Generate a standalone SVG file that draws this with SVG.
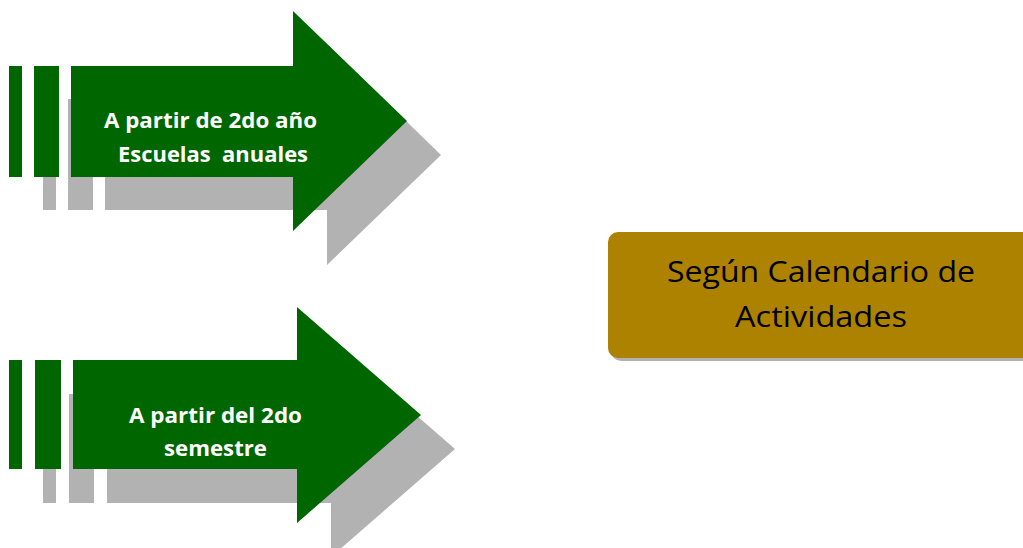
<svg xmlns="http://www.w3.org/2000/svg" width="1023" height="548" viewBox="0 0 1023 548">
<style>
.g{fill:#006600}
.s{fill:#b2b2b2}
.t{font-family:"Open Sans","Liberation Sans",sans-serif;font-weight:bold;font-size:21px;fill:#ffffff;text-anchor:middle;white-space:pre}
.b{font-family:"Open Sans","Liberation Sans",sans-serif;font-size:30px;fill:#000000;text-anchor:middle}
</style>
<rect width="1023" height="548" fill="#ffffff"/>
<g id="arrow1">
<g class="s">
<rect x="43" y="99" width="13" height="111"/>
<rect x="68" y="99" width="25" height="111"/>
<polygon points="105,99 327,99 327,44 441,155 327,265 327,210 105,210"/>
</g>
<g class="g">
<rect x="9" y="66" width="13" height="111"/>
<rect x="34" y="66" width="25" height="111"/>
<polygon points="71,66 293,66 293,11 407,121 293,231 293,177 71,177"/>
</g>
<text class="t" x="210.5" y="128" textLength="213" lengthAdjust="spacingAndGlyphs">A partir de 2do año</text>
<text class="t" x="213" y="162" textLength="190" lengthAdjust="spacingAndGlyphs" xml:space="preserve">Escuelas  anuales</text>
</g>
<g id="arrow2">
<g class="s">
<rect x="43" y="394" width="13" height="109"/>
<rect x="69" y="394" width="25" height="109"/>
<polygon points="107,394 331,394 331,341 455,449 331,557 331,503 107,503"/>
</g>
<g class="g">
<rect x="9" y="360" width="13" height="109"/>
<rect x="35" y="360" width="26" height="109"/>
<polygon points="73,360 297,360 297,307 421,415 297,523 297,469 73,469"/>
</g>
<text class="t" x="215.5" y="423" textLength="173" lengthAdjust="spacingAndGlyphs">A partir del 2do</text>
<text class="t" x="215.5" y="456" textLength="103" lengthAdjust="spacingAndGlyphs">semestre</text>
</g>
<g id="box">
<rect x="611" y="235" width="430" height="126" rx="10" fill="#b2b2b2"/>
<rect x="608" y="232" width="430" height="126" rx="10" fill="#ad8200"/>
<text class="b" x="821" y="282" textLength="308" lengthAdjust="spacingAndGlyphs">Según Calendario de</text>
<text class="b" x="821" y="327" textLength="172" lengthAdjust="spacingAndGlyphs">Actividades</text>
</g>
</svg>
